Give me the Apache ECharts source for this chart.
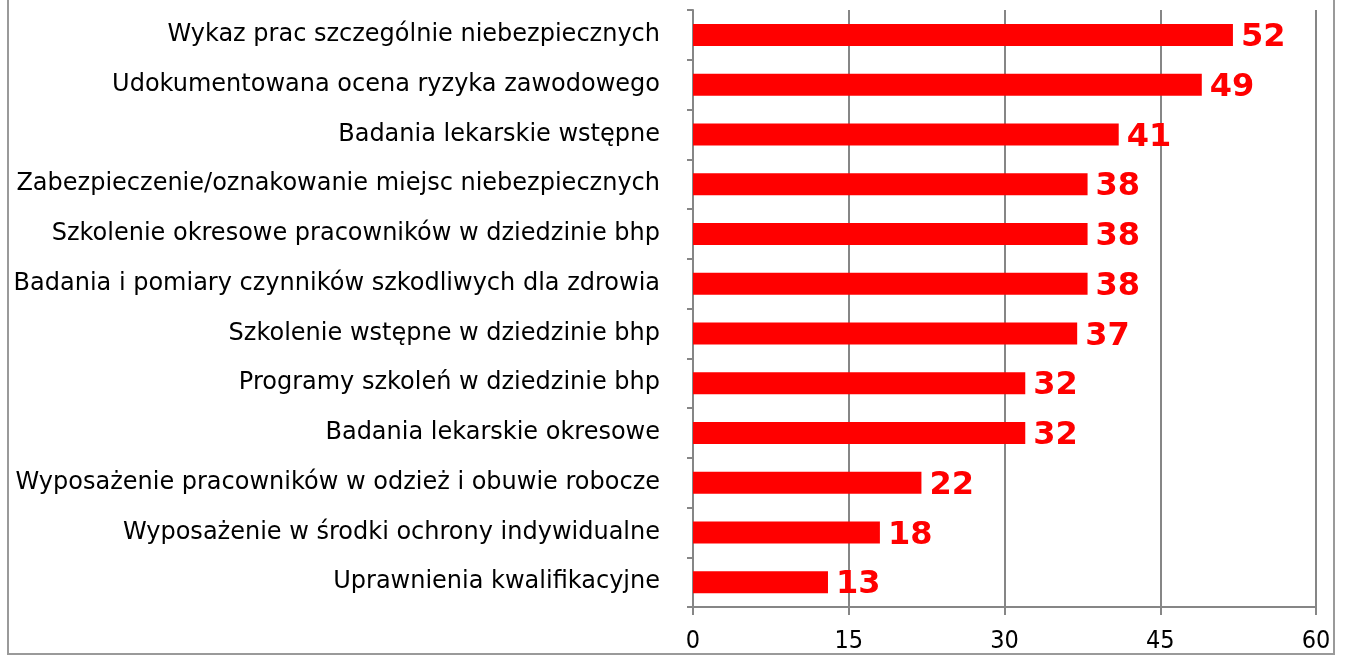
<!DOCTYPE html>
<html>
<head>
<meta charset="utf-8">
<script src="https://cdn.jsdelivr.net/npm/echarts@6/dist/echarts.min.js"></script>
<style>
html,body{margin:0;padding:0;background:#fff;}
#chart{width:1347px;height:659px;}
</style>
</head>
<body>
<div id="chart"></div>
<script>
const categories = [
  "Wykaz prac szczególnie niebezpiecznych",
  "Udokumentowana ocena ryzyka zawodowego",
  "Badania lekarskie wstępne",
  "Zabezpieczenie/oznakowanie miejsc niebezpiecznych",
  "Szkolenie okresowe pracowników w dziedzinie bhp",
  "Badania i pomiary czynników szkodliwych dla zdrowia",
  "Szkolenie wstępne w dziedzinie bhp",
  "Programy szkoleń w dziedzinie bhp",
  "Badania lekarskie okresowe",
  "Wyposażenie pracowników w odzież i obuwie robocze",
  "Wyposażenie w środki ochrony indywidualne",
  "Uprawnienia kwalifikacyjne"
];
const values = [52, 49, 41, 38, 38, 38, 37, 32, 32, 22, 18, 13];
const xMin = 0, xMax = 60, xStep = 15;

const chart = echarts.init(document.getElementById('chart'), null, {renderer: 'canvas'});
chart.setOption({
  animation: false,
  backgroundColor: '#ffffff',
  graphic: [{
    type: 'rect',
    shape: {x: 8, y: -5, width: 1326, height: 659},
    style: {fill: 'none', stroke: '#9a9a9a', lineWidth: 2},
    silent: true
  }],
  grid: {left: 693, right: 31, top: 10, bottom: 52, containLabel: false},
  xAxis: {
    type: 'value',
    min: xMin, max: xMax, interval: xStep,
    axisLine: {show: true, lineStyle: {color: '#868686', width: 2}},
    axisTick: {show: true, length: 8, lineStyle: {color: '#868686', width: 2}},
    splitLine: {show: true, lineStyle: {color: '#868686', width: 2}},
    axisLabel: {
      color: '#000', fontSize: 25, margin: 22,
      fontFamily: '"DejaVu Sans Condensed", "DejaVu Sans", sans-serif'
    }
  },
  yAxis: {
    type: 'category',
    data: categories,
    inverse: true,
    axisLine: {show: true, lineStyle: {color: '#868686', width: 2}},
    axisTick: {show: true, length: 6, lineStyle: {color: '#868686', width: 2}},
    axisLabel: {
      color: '#000', fontSize: 24, margin: 33, padding: [5, 0, 0, 0],
      fontFamily: '"DejaVu Sans", Verdana, sans-serif'
    }
  },
  series: [{
    type: 'bar',
    data: values,
    barWidth: 22,
    itemStyle: {color: '#ff0000'},
    label: {
      show: true, position: 'right', distance: 8, offset: [0, 3],
      color: '#ff0000', fontSize: 32, fontWeight: 'bold',
      fontFamily: '"DejaVu Sans", Verdana, sans-serif'
    }
  }]
});
</script>
</body>
</html>
